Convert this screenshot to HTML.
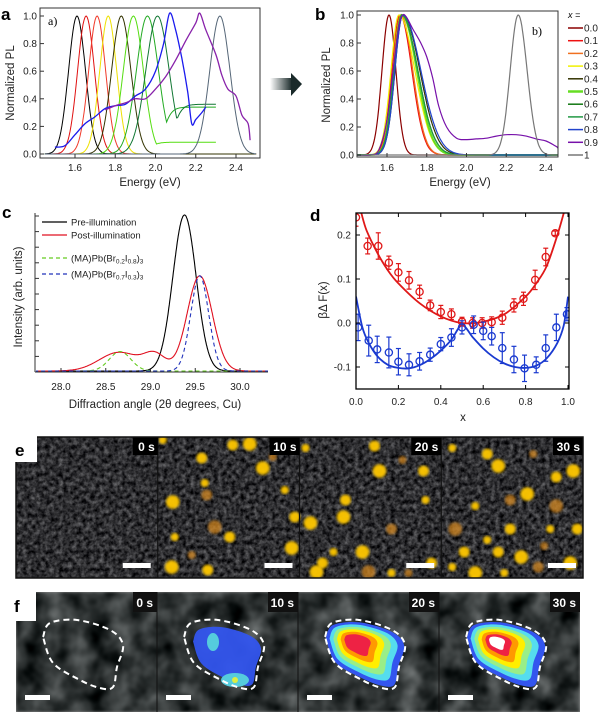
<!DOCTYPE html>
<html><head><meta charset="utf-8">
<style>
html,body{margin:0;padding:0;background:#fff;}
svg{display:block;font-family:"Liberation Sans",sans-serif;}
.tk{font-size:10px;fill:#222;}
.ax{font-size:11.5px;fill:#222;}
.lt{font-size:17px;font-weight:bold;fill:#000;}
.ts{font-size:12px;font-weight:bold;fill:#fff;}
</style></head>
<body>
<svg id="fig" width="600" height="714" viewBox="0 0 600 714">
<defs>
<filter id="grain" x="0" y="0" width="100%" height="100%" color-interpolation-filters="sRGB">
<feTurbulence type="fractalNoise" baseFrequency="0.22" numOctaves="3" seed="4"/>
<feColorMatrix type="matrix" values="1.1 0 0 0 -0.22  1.1 0 0 0 -0.22  1.1 0 0 0 -0.2  0 0 0 0 1"/>
</filter>
<filter id="soft1"><feGaussianBlur stdDeviation="1.2"/></filter>
<filter id="blurf" x="0" y="0" width="100%" height="100%" color-interpolation-filters="sRGB">
<feTurbulence type="fractalNoise" baseFrequency="0.045" numOctaves="3" seed="9"/>
<feColorMatrix type="matrix" values="1.0 0 0 0 -0.2  1.0 0 0 0 -0.17  1.0 0 0 0 -0.17  0 0 0 0 1"/>
<feGaussianBlur stdDeviation="1.2"/></filter>
<linearGradient id="arrowg" x1="0" x2="1"><stop offset="0" stop-color="#fff"/><stop offset="1" stop-color="#1a2a2a"/></linearGradient>
<clipPath id="clipE"><rect x="16" y="437" width="567" height="141"/></clipPath>
<clipPath id="clipF"><rect x="16" y="592" width="564" height="120"/></clipPath>
</defs>
<g id="pa"></g>
<g id="pb"></g>
<g id="pc"></g>
<g id="pd"></g>
<g id="pe"></g>
<g id="pf"></g>
</svg>
<script>
// ---- Panel a data ----
const aCenters=[1.61,1.655,1.71,1.765,1.83,1.89,1.96,2.01,2.32];
const aWidths=[0.042,0.042,0.042,0.042,0.048,0.05,0.055,0.058,0.05];
const aTails=[0,0,0,0,0,0.085,0.34,0.36,0];
const aColors=["#000","#e01010","#f03a2a","#eee000","#333300","#55dd11","#22aa22","#117733","#556677"];
const aBlueE=[1.5,1.55,1.6,1.65,1.7,1.75,1.8,1.85,1.9,1.95,2.0,2.04,2.07,2.1,2.13,2.16,2.18,2.2,2.23,2.25];
const aBlueY=[0.05,0.06,0.14,0.22,0.27,0.33,0.35,0.36,0.42,0.47,0.6,0.8,1.02,0.9,0.7,0.45,0.22,0.25,0.3,0.34];
const aPurpE=[1.75,1.8,1.85,1.9,1.95,2.0,2.05,2.1,2.15,2.2,2.22,2.25,2.3,2.33,2.36,2.4,2.43,2.46,2.47];
const aPurpY=[0.32,0.35,0.37,0.4,0.4,0.47,0.56,0.68,0.82,0.95,1.02,0.9,0.72,0.57,0.47,0.42,0.28,0.22,0.1];
const aXTicks=[1.6,1.8,2.0,2.2,2.4];
const aYTicks=[0,0.2,0.4,0.6,0.8,1.0];
// ---- Panel b data ----
const bLabels=["0.0","0.1","0.2","0.3","0.4","0.5","0.6","0.7","0.8","0.9","1"];
const bCenters=[1.61,1.665,1.67,1.66,1.68,1.675,1.675,1.675,1.68,1.685,2.26];
const bLeftW=[0.035,0.04,0.04,0.04,0.04,0.04,0.04,0.04,0.04,0.04,0.04];
const bRightW=[0.035,0.06,0.06,0.08,0.085,0.075,0.08,0.08,0.09,0.13,0.045];
const bColors=["#8b0000","#ee1111","#f07020","#f0f000","#333300","#66dd22","#117711","#229944","#2244cc","#7711aa","#777777"];
const bPurpE=[1.45,1.52,1.56,1.6,1.63,1.66,1.68,1.7,1.73,1.77,1.8,1.83,1.86,1.9,1.95,2.0,2.05,2.1,2.15,2.2,2.25,2.3,2.35,2.4,2.44,2.46,2.47];
const bPurpY=[0.0,0.0,0.04,0.25,0.6,0.92,1.0,0.98,0.9,0.8,0.7,0.55,0.35,0.2,0.12,0.11,0.115,0.12,0.135,0.145,0.145,0.135,0.115,0.1,0.07,0.05,0.0];
// ---- Panel c data ----
const cCenters=[[29.38],[29.55,29.05,28.65],[28.66],[29.55]];
const cHeights=[[1.0],[0.61,0.1,0.12],[0.125],[0.61]];
const cWidths=[[0.13],[0.14,0.12,0.22],[0.12],[0.1]];
const cColors=["#000","#e01020","#66cc22","#2233bb"];
const cXTicks=[28.0,28.5,29.0,29.5,30.0];
// ---- Panel d data ----
const dRedX=[0.0,0.055,0.105,0.155,0.2,0.25,0.3,0.35,0.4,0.45,0.5,0.55,0.595,0.64,0.69,0.745,0.79,0.845,0.895,0.94];
const dRedY=[0.24,0.175,0.175,0.137,0.115,0.097,0.071,0.04,0.025,0.02,0.003,0.0,0.0,0.002,0.012,0.04,0.055,0.098,0.15,0.204];
const dRedErr=[0.02,0.018,0.03,0.015,0.02,0.02,0.015,0.012,0.015,0.012,0.01,0.012,0.012,0.012,0.015,0.015,0.015,0.022,0.02,0.005];
const dBlueX=[0.01,0.06,0.1,0.155,0.2,0.25,0.3,0.35,0.4,0.45,0.5,0.555,0.6,0.64,0.69,0.745,0.795,0.85,0.895,0.945,0.995];
const dBlueY=[-0.01,-0.04,-0.06,-0.067,-0.088,-0.095,-0.087,-0.072,-0.048,-0.033,-0.01,-0.004,-0.018,-0.03,-0.057,-0.083,-0.103,-0.095,-0.057,-0.01,0.02];
const dBlueErr=[0.03,0.035,0.03,0.035,0.03,0.025,0.02,0.015,0.015,0.02,0.015,0.02,0.02,0.02,0.035,0.03,0.03,0.018,0.03,0.03,0.015];
const dRedFitX=[0.025,0.05,0.1,0.15,0.2,0.3,0.4,0.5,0.6,0.7,0.8,0.85,0.9,0.95,0.98];
const dRedFitY=[0.25,0.21,0.16,0.12,0.09,0.045,0.015,0.0,0.003,0.02,0.06,0.09,0.13,0.2,0.25];
const dBlueFitX=[0.0,0.03,0.06,0.1,0.15,0.2,0.25,0.3,0.35,0.4,0.45,0.5,0.55,0.6,0.65,0.7,0.75,0.8,0.85,0.9,0.95,0.98,1.0];
const dBlueFitY=[0.06,-0.01,-0.045,-0.075,-0.095,-0.102,-0.103,-0.096,-0.082,-0.063,-0.038,-0.005,-0.032,-0.058,-0.078,-0.092,-0.1,-0.102,-0.097,-0.08,-0.045,-0.005,0.06];
const dXTicks=[0,0.2,0.4,0.6,0.8,1.0];
const dYTicks=[-0.1,0,0.1,0.2];

const NS="http://www.w3.org/2000/svg";
function mk(parent,tag,attrs,text){const e=document.createElementNS(NS,tag);for(const k in attrs)e.setAttribute(k,attrs[k]);if(text!==undefined)e.textContent=text;parent.appendChild(e);return e;}
function lin(d0,d1,r0,r1){return v=>r0+(v-d0)*(r1-r0)/(d1-d0);}
function gauss(x,c,w){return Math.exp(-0.5*((x-c)/w)**2);}
function smoothPath(pts){let d="M"+pts[0][0].toFixed(1)+","+pts[0][1].toFixed(1);for(let i=1;i<pts.length;i++){const p0=pts[Math.max(0,i-2)],p1=pts[i-1],p2=pts[i],p3=pts[Math.min(pts.length-1,i+1)];const c1=[p1[0]+(p2[0]-p0[0])/6,p1[1]+(p2[1]-p0[1])/6],c2=[p2[0]-(p3[0]-p1[0])/6,p2[1]-(p3[1]-p1[1])/6];d+=" C"+c1[0].toFixed(1)+","+c1[1].toFixed(1)+" "+c2[0].toFixed(1)+","+c2[1].toFixed(1)+" "+p2[0].toFixed(1)+","+p2[1].toFixed(1);}return d;}
function polyPath(pts){return "M"+pts.map(p=>p[0].toFixed(1)+","+p[1].toFixed(1)).join(" L");}

// ===== Panel a =====
(function(){
const g=document.getElementById('pa');
const X=lin(1.6,2.4,75,236),Y=lin(0,1,154,16);
const clip=mk(g,'clipPath',{id:'clipA'});mk(clip,'rect',{x:40,y:8,width:220,height:150});
const cg=mk(g,'g',{'clip-path':'url(#clipA)'});
aCenters.forEach((c,i)=>{const pts=[];for(let e=1.45;e<=2.5;e+=0.005){let y=gauss(e,c,aWidths[i]);if(aTails[i]>0){if(e>c){y=Math.max(y,aTails[i]/(1+Math.exp(-(e-c-0.08)/0.02)));if(e>2.3)break;}}pts.push([X(e),Y(y)]);}
const p=mk(cg,'path',{d:polyPath(pts),fill:'none',stroke:aColors[i],'stroke-width':1});
});
const bp=mk(cg,'path',{d:smoothPath(aBlueE.map((e,i)=>[X(e),Y(aBlueY[i])])),fill:'none',stroke:'#1a1aee','stroke-width':1.3});

const pp=mk(cg,'path',{d:smoothPath(aPurpE.map((e,i)=>[X(e),Y(aPurpY[i])])),fill:'none',stroke:'#8822aa','stroke-width':1.3});

mk(g,'rect',{x:40,y:8,width:220,height:150,fill:'none',stroke:'#333','stroke-width':1,});
aXTicks.forEach(t=>{mk(g,'line',{x1:X(t),x2:X(t),y1:158,y2:154,stroke:'#333'});const tx=mk(g,'text',{x:X(t),y:171,'text-anchor':'middle',class:'tk'},t.toFixed(1));});
aYTicks.forEach(t=>{mk(g,'line',{x1:40,x2:44,y1:Y(t),y2:Y(t),stroke:'#333'});const tx=mk(g,'text',{x:37,y:Y(t)+3.5,'text-anchor':'end',class:'tk'},t.toFixed(1));});
mk(g,'text',{x:150,y:186,'text-anchor':'middle',class:'ax',},'Energy (eV)');
mk(g,'text',{x:14,y:83,'text-anchor':'middle',class:'ax',transform:'rotate(-90 14 83)',},'Normalized PL');
mk(g,'text',{x:1,y:20,class:'lt',},'a');
mk(g,'text',{x:48,y:25,'font-family':'Liberation Serif,serif','font-size':'12px',},'a)');
mk(g,'rect',{x:270,y:78,width:22,height:12,fill:'url(#arrowg)',});
mk(g,'polygon',{points:'291,73 302,84 291,96',fill:'#1a2a2a',});
})();

// ===== Panel b =====
(function(){
const g=document.getElementById('pb');
const X=lin(1.6,2.4,387,546),Y=lin(0,1,155,15);
const clip=mk(g,'clipPath',{id:'clipB'});mk(clip,'rect',{x:357,y:11,width:201,height:146});
const cg=mk(g,'g',{'clip-path':'url(#clipB)'});
bCenters.forEach((c,i)=>{let d;
if(i===9){d=smoothPath(bPurpE.map((e,j)=>[X(e),Y(bPurpY[j])]));}
else{const pts=[];for(let e=1.45;e<=2.48;e+=0.004){const y=e<c?gauss(e,c,bLeftW[i]):gauss(e,c,bRightW[i]);pts.push([X(e),Y(y)]);}d=polyPath(pts);}
const p=mk(cg,'path',{d:d,fill:'none',stroke:bColors[i],'stroke-width':i===5?2:1.2});
});
mk(g,'rect',{x:357,y:11,width:201,height:146,fill:'none',stroke:'#333',});
aXTicks.forEach(t=>{mk(g,'line',{x1:X(t),x2:X(t),y1:157,y2:153,stroke:'#333'});const tx=mk(g,'text',{x:X(t),y:171,'text-anchor':'middle',class:'tk'},t.toFixed(1));});
aYTicks.forEach(t=>{mk(g,'line',{x1:357,x2:361,y1:Y(t),y2:Y(t),stroke:'#333'});const tx=mk(g,'text',{x:354,y:Y(t)+3.5,'text-anchor':'end',class:'tk'},t.toFixed(1));});
mk(g,'text',{x:460,y:186,'text-anchor':'middle',class:'ax',},'Energy (eV)');
mk(g,'text',{x:330,y:85,'text-anchor':'middle',class:'ax',transform:'rotate(-90 330 85)',},'Normalized PL');
mk(g,'text',{x:315,y:20,class:'lt',},'b');
mk(g,'text',{x:532,y:35,'font-family':'Liberation Serif,serif','font-size':'12px',},'b)');
mk(g,'text',{x:568,y:18,'font-size':'9px','font-style':'italic',},'x =');
bLabels.forEach((l,i)=>{const y=28+i*12.7;const le=mk(g,'g',{});
mk(le,'line',{x1:568,x2:583,y1:y,y2:y,stroke:bColors[i],'stroke-width':i===5?2.5:1.5});mk(le,'text',{x:584,y:y+3.5,class:'tk'},l);});
})();

// ===== Panel c =====
(function(){
const g=document.getElementById('pc');
const X=lin(28,30,61,240),Y=lin(0,1,371,215);
const clip=mk(g,'clipPath',{id:'clipC'});mk(clip,'rect',{x:36,y:205,width:232,height:170});
const cg=mk(g,'g',{'clip-path':'url(#clipC)'});
cCenters.forEach((cs,i)=>{const pts=[];for(let a=27.7;a<=30.35;a+=0.005){let y=0;cs.forEach((c,j)=>{y+=cHeights[i][j]*gauss(a,c,cWidths[i][j]);});pts.push([X(a),Y(y)]);}
const p=mk(cg,'path',{d:polyPath(pts),fill:'none',stroke:cColors[i],'stroke-width':1.1,'stroke-dasharray':i>=2?'4,3':'none'});
});
mk(g,'line',{x1:35,x2:35,y1:213,y2:372,stroke:'#333',});
mk(g,'line',{x1:35,x2:268,y1:372,y2:372,stroke:'#333',});
for(let k=0;k<11;k++){const y=372-k*15.6;mk(g,'line',{x1:35,x2:39,y1:y,y2:y,stroke:'#333'});}
cXTicks.forEach(t=>{mk(g,'line',{x1:X(t),x2:X(t),y1:372,y2:368,stroke:'#333'});const tx=mk(g,'text',{x:X(t),y:390,'text-anchor':'middle',class:'tk'},t.toFixed(1));});
mk(g,'text',{x:155,y:408,'text-anchor':'middle',class:'ax',},'Diffraction angle (2θ degrees, Cu)');
mk(g,'text',{x:22,y:297,'text-anchor':'middle',class:'ax',transform:'rotate(-90 22 297)',},'Intensity (arb. units)');
mk(g,'text',{x:2,y:218,class:'lt',},'c');
const ly=[222,235,258,274];
const lt=[['Pre-illumination'],['Post-illumination'],['(MA)Pb(Br','0.2','I','0.8',')','3'],['(MA)Pb(Br','0.7','I','0.3',')','3']];
ly.forEach((y,i)=>{const le=mk(g,'g',{});
mk(le,'line',{x1:42,x2:67,y1:y,y2:y,stroke:cColors[i],'stroke-width':1.2,'stroke-dasharray':i>=2?'4,3':'none'});
const t=mk(le,'text',{x:71,y:y+3.5,'font-size':'9.5px',fill:'#222'});
lt[i].forEach((s,j)=>{const ts=mk(t,'tspan',{},s);if(j%2===1){ts.setAttribute('font-size','6.5px');ts.setAttribute('dy','2');}else if(j>0){ts.setAttribute('dy','-2');}});});
})();

// ===== Panel d =====
(function(){
const g=document.getElementById('pd');
const X=lin(0,1,356,568),Y=lin(0,0.1,323,279);
const clip=mk(g,'clipPath',{id:'clipD'});mk(clip,'rect',{x:356,y:213,width:213,height:176});
const cg=mk(g,'g',{'clip-path':'url(#clipD)'});
const rf=mk(cg,'path',{d:smoothPath(dRedFitX.map((x,i)=>[X(x),Y(dRedFitY[i])])),fill:'none',stroke:'#e01818','stroke-width':1.8});

const bf=mk(cg,'path',{d:smoothPath(dBlueFitX.map((x,i)=>[X(x),Y(dBlueFitY[i])])),fill:'none',stroke:'#1a3ad0','stroke-width':1.8});

function pts(xs,ys,es,col,nm){xs.forEach((x,i)=>{const gg=mk(cg,'g',{});
const cx=X(x),cy=Y(ys[i]),e1=Y(ys[i]+es[i]),e0=Y(ys[i]-es[i]);
mk(gg,'line',{x1:cx,x2:cx,y1:e1,y2:e0,stroke:col,'stroke-width':1.2});mk(gg,'line',{x1:cx-2.5,x2:cx+2.5,y1:e1,y2:e1,stroke:col,'stroke-width':1.2});mk(gg,'line',{x1:cx-2.5,x2:cx+2.5,y1:e0,y2:e0,stroke:col,'stroke-width':1.2});
mk(gg,'circle',{cx:cx,cy:cy,r:3.6,fill:'none',stroke:col,'stroke-width':1.3});});}
pts(dRedX,dRedY,dRedErr,'#e01818','data-point-red');
pts(dBlueX,dBlueY,dBlueErr,'#1a3ad0','data-point-blue');
mk(g,'rect',{x:356,y:213,width:213,height:176,fill:'none',stroke:'#000','stroke-width':1.3,});
dXTicks.forEach(t=>{mk(g,'line',{x1:X(t),x2:X(t),y1:389,y2:385,stroke:'#000'});mk(g,'line',{x1:X(t),x2:X(t),y1:213,y2:217,stroke:'#000'});const tx=mk(g,'text',{x:X(t),y:405,'text-anchor':'middle',class:'tk'},t.toFixed(1));});
dYTicks.forEach(t=>{mk(g,'line',{x1:356,x2:360,y1:Y(t),y2:Y(t),stroke:'#000'});mk(g,'line',{x1:569,x2:565,y1:Y(t),y2:Y(t),stroke:'#000'});const tx=mk(g,'text',{x:351,y:Y(t)+3.5,'text-anchor':'end',class:'tk'},t.toFixed(1));});
mk(g,'text',{x:463,y:421,'text-anchor':'middle',class:'ax',},'x');
mk(g,'text',{x:327,y:300,'text-anchor':'middle',class:'ax',transform:'rotate(-90 327 300)',},'βΔ F(x)');
mk(g,'text',{x:310,y:221,class:'lt',},'d');
})();

// ===== Panel e =====
(function(){
const g=document.getElementById('pe');
const x0=16,y0=437,w=567,h=141,tw=w/4;
const cg=mk(g,'g',{'clip-path':'url(#clipE)'});
mk(cg,'rect',{x:x0,y:y0,width:w,height:h,fill:'#000',filter:'url(#grain)',});
mk(cg,'rect',{x:x0,y:y0,width:w,height:h,fill:'#000',opacity:0.45});
const blobs=[[],
[[5,3],[75,8],[92,7],[115,20],[44,21],[105,31],[47,46],[49,58],[15,65],[127,53],[137,80],[57,90],[17,100],[72,100],[134,111],[34,118],[50,133],[14,130]],
[[6,11],[75,9],[80,34],[103,23],[46,63],[44,80],[126,63],[92,92],[63,115],[34,115],[23,126],[69,135],[92,136],[132,126],[11,86],[109,136],[124,34],[17,135]],
[[11,11],[46,17],[57,29],[92,17],[115,40],[132,34],[34,69],[69,63],[86,57],[109,92],[136,92],[14,92],[46,103],[57,115],[80,120],[103,109],[23,115],[34,136],[63,136],[97,130],[129,126],[11,130],[69,92],[115,69]]];
blobs.forEach((bl,k)=>{bl.forEach((p,i)=>{const c=mk(cg,'circle',{cx:x0+k*tw+p[0],cy:y0+p[1],r:4+(i%3)*1.4,fill:i%4===3?'#e09020':'#ffc800',opacity:i%4===3?0.7:0.95,filter:'url(#soft1)'});});});
['0 s','10 s','20 s','30 s'].forEach((t,k)=>{const xr=x0+(k+1)*tw;
if(k<3)mk(g,'line',{x1:xr,x2:xr,y1:y0,y2:y0+h,stroke:'#111','stroke-width':1.2});
const bx=mk(g,'g',{});
mk(bx,'rect',{x:xr-(k?30:25),y:y0,width:k?30:25,height:18,fill:'#000'});mk(bx,'text',{x:xr-3,y:y0+14,'text-anchor':'end',class:'ts'},t);
const sb=mk(g,'rect',{x:xr-35,y:y0+126,width:28,height:5,fill:'#fff'});});
mk(g,'rect',{x:x0,y:y0,width:w,height:h,fill:'none',stroke:'#111','stroke-width':1.5});
mk(g,'rect',{x:0,y:434,width:37,height:28,fill:'#fff'});
mk(g,'text',{x:15,y:456,class:'lt',},'e');
})();

// ===== Panel f =====
(function(){
const g=document.getElementById('pf');
const x0=16,y0=592,w=564,h=120,tw=w/4;
const cg=mk(g,'g',{'clip-path':'url(#clipF)'});
mk(cg,'rect',{x:x0,y:y0,width:w,height:h,fill:'#000',filter:'url(#blurf)',});
mk(cg,'rect',{x:x0,y:y0,width:w,height:h,fill:'#000',opacity:0.4});
const outline=[[27,45],[34,31],[61,28],[94,38],[107,53],[101,75],[97,95],[84,96],[64,88],[37,71]];
const cols=['#3355ee','#55ddee','#99ee88','#ffee00','#ff9900','#ee2244','#ffffff'];
function shape(cx,cy,sx,sy){return outline.map(p=>[cx+(p[0]-67)*sx,cy+(p[1]-62)*sy]);}
for(let k=0;k<4;k++){const ox=x0+k*tw;const tile=mk(cg,'g',{});
if(k===1){const s=shape(ox+70,y0+64,0.85,0.85);mk(tile,'path',{d:smoothPath(s.concat([s[0]]))+'Z',fill:'#3355ee',opacity:0.95});
mk(tile,'ellipse',{cx:ox+56,cy:y0+50,rx:6,ry:9,fill:'#55ccdd'});mk(tile,'ellipse',{cx:ox+78,cy:y0+88,rx:14,ry:7,fill:'#55ccdd'});mk(tile,'circle',{cx:ox+78,cy:y0+88,r:3,fill:'#ddee44'});}
if(k>=2){const n=k===2?6:7;for(let j=0;j<n;j++){const s=0.98-j*0.13;const cx=ox+67-j*1.5,cy=y0+62-j*1.8;const sh=shape(cx,cy,s,s*0.95);
mk(tile,'path',{d:smoothPath(sh.concat([sh[0]]))+'Z',fill:cols[j]});}}
const dsh=shape(ox+67,y0+62,1,1);
mk(tile,'path',{d:smoothPath(dsh.concat([dsh[0]])),fill:'none',stroke:'#fff','stroke-width':2,'stroke-dasharray':'6,4'});
const xr=ox+tw;
if(k<3)mk(g,'line',{x1:xr,x2:xr,y1:y0,y2:y0+h,stroke:'#111','stroke-width':1});
const bx=mk(g,'g',{});
mk(bx,'rect',{x:xr-(k?30:24),y:y0,width:k?30:24,height:20,fill:'#111'});mk(bx,'text',{x:xr-4,y:y0+15,'text-anchor':'end',class:'ts'},['0 s','10 s','20 s','30 s'][k]);
const sb=mk(g,'rect',{x:ox+9,y:y0+103,width:25,height:5,fill:'#fff'});}
mk(g,'rect',{x:0,y:589,width:36,height:32,fill:'#fff'});
mk(g,'text',{x:14,y:612,class:'lt',},'f');
})();
</script>
</body></html>
